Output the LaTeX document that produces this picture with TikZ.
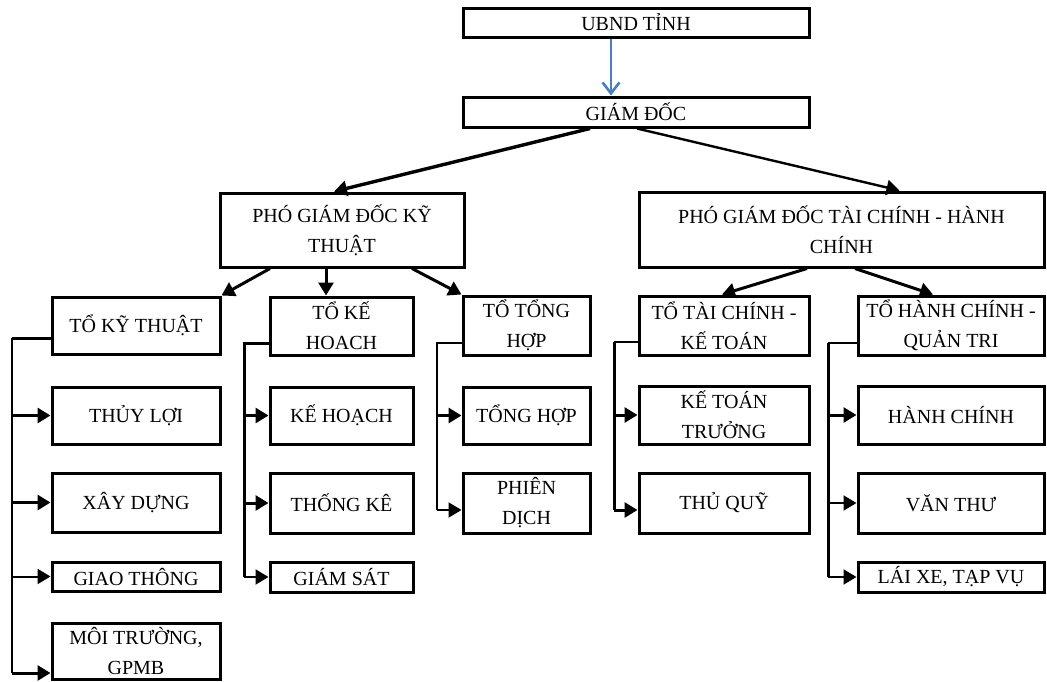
\documentclass[tikz,border=0pt]{standalone}
\usepackage{fontspec}
\setmainfont{Liberation Serif}
\usetikzlibrary{arrows.meta}
\definecolor{linkblue}{RGB}{74,126,193}

\begin{document}
\begin{tikzpicture}[x=1pt,y=-1pt,
    box/.style={draw,line width=3pt,align=center,inner sep=0pt,font=\fontsize{20}{30}\selectfont},
    link/.style={line width=3pt,-{Triangle[length=13pt,width=15pt]}},
    thin link/.style={line width=2pt,-{Triangle[length=13pt,width=15pt]}},
    bus/.style={line width=3pt},
    thin bus/.style={line width=2pt}]
    \useasboundingbox (0,0) rectangle (1047,681);

    % top
    \node[box,minimum width=346pt,minimum height=29pt] (ubnd) at (636,22.5) {UBND TỈNH};
    \node[box,minimum width=346pt,minimum height=30pt] (gd) at (636,112) {GIÁM ĐỐC};
    \draw[draw=linkblue,line width=2.6pt,-{Straight Barb[length=11pt,width=17pt]}] ([xshift=-25pt]ubnd.south) -- ([xshift=-25pt]gd.north);

    % deputies
    \node[box,minimum width=244pt,minimum height=74pt] (pgdkt) at (342,230) {PHÓ GIÁM ĐỐC KỸ\\THUẬT};
    \node[box,minimum width=405pt,minimum height=75pt] (pgdtc) at (841.5,229.5) {PHÓ GIÁM ĐỐC TÀI CHÍNH - HÀNH\\CHÍNH};
    \draw[link,line width=3.4pt] ([xshift=-46pt]gd.south) -- ([xshift=-8pt]pgdkt.north);
    \draw[link,line width=2.4pt] ([xshift=1pt]gd.south) -- ([xshift=58pt]pgdtc.north);

    % to ky thuat
    \node[box,minimum width=168pt,minimum height=57pt] (tokt) at (136,325.5) {TỔ KỸ THUẬT};
    \node[box,minimum width=168pt,minimum height=57pt] (thuyloi) at (136,415.5) {THỦY LỢI};
    \node[box,minimum width=168pt,minimum height=59pt] (xaydung) at (136,502.5) {XÂY DỰNG};
    \node[box,minimum width=168pt,minimum height=29pt] (giaothong) at (136,576.5) {GIAO THÔNG};
    \node[box,minimum width=168pt,minimum height=56pt] (moitruong) at (136,651) {MÔI TRƯỜNG,\\GPMB};

    % to ke hoach
    \node[box,minimum width=143pt,minimum height=58pt] (tokh) at (341.5,326) {TỔ KẾ\\HOACH};
    \node[box,minimum width=143pt,minimum height=57pt] (kehoach) at (341.5,415.5) {KẾ HOẠCH};
    \node[box,minimum width=143pt,minimum height=60pt] (thongke) at (341.5,503) {THỐNG KÊ};
    \node[box,minimum width=143pt,minimum height=30pt] (giamsat) at (341.5,577) {GIÁM SÁT};

    % to tong hop
    \node[box,minimum width=127pt,minimum height=59pt] (toth) at (526.5,325.5) {TỔ TỔNG\\HỢP};
    \node[box,minimum width=127pt,minimum height=57pt] (tonghop) at (526.5,415.5) {TỔNG HỢP};
    \node[box,minimum width=127pt,minimum height=60pt] (phiendich) at (526.5,503) {PHIÊN\\DỊCH};

    % to tai chinh
    \node[box,minimum width=170pt,minimum height=59pt] (totckt) at (724,325.5) {TỔ TÀI CHÍNH -\\KẾ TOÁN};
    \node[box,minimum width=170pt,minimum height=58pt] (ktt) at (724,415) {KẾ TOÁN\\TRƯỞNG};
    \node[box,minimum width=170pt,minimum height=60pt] (thuquy) at (724,503) {THỦ QUỸ};

    % to hanh chinh
    \node[box,minimum width=186pt,minimum height=59pt] (tohc) at (951,325.5) {TỔ HÀNH CHÍNH -\\QUẢN TRI};
    \node[box,minimum width=186pt,minimum height=58pt] (hanhchinh) at (951,415) {HÀNH CHÍNH};
    \node[box,minimum width=186pt,minimum height=60pt] (vanthu) at (951,503) {VĂN THƯ};
    \node[box,minimum width=186pt,minimum height=30pt] (laixe) at (951,577) {LÁI XE, TẠP VỤ};

    % deputies to teams
    \draw[link] ([xshift=-72pt]pgdkt.south) -- (tokt.north east);
    \draw[link] ([xshift=-16pt]pgdkt.south) -- ([xshift=-16pt]pgdkt.south |- tokh.north);
    \draw[link] ([xshift=70pt]pgdkt.south) -- (toth.north west);
    \draw[link] ([xshift=-34.5pt]pgdtc.south) -- ([xshift=-2pt]totckt.north);
    \draw[link] ([xshift=13.5pt]pgdtc.south) -- ([xshift=-18pt]tohc.north);

    % brackets
    \coordinate (ktbus) at (12,338);
    \coordinate (ktend) at (12,673);
    \draw[bus] ([yshift=-12.5pt]tokt.west) -- (ktbus);
    \draw[thin bus] (ktbus) -- (ktend);
    \draw[link] (ktbus |- thuyloi.west) -- (thuyloi.west);
    \draw[link] (ktbus |- xaydung.west) -- (xaydung.west);
    \draw[thin link] (ktbus |- giaothong.west) -- (giaothong.west);
    \draw[link] (ktend) -- (ktend -| moitruong.west);

    \coordinate (khbus) at (244,343);
    \coordinate (khend) at (244,577);
    \draw[bus] ([yshift=-17pt]tokh.west) -- (khbus) -- (khend);
    \draw[link] (khbus |- kehoach.west) -- (kehoach.west);
    \draw[link] (khbus |- thongke.west) -- (thongke.west);
    \draw[thin link] (khend) -- (giamsat.west);

    \coordinate (thbus) at (437,343);
    \coordinate (thend) at (437,510);
    \draw[thin bus] ([yshift=-17.5pt]toth.west) -- (thbus) -- (thend);
    \draw[link] (thbus |- tonghop.west) -- (tonghop.west);
    \draw[thin link] (thend) -- (thend -| phiendich.west);

    \coordinate (tcbus) at (614,342);
    \coordinate (tcend) at (614,510);
    \draw[thin bus] ([yshift=-16.5pt]totckt.west) -- (tcbus);
    \draw[bus] (tcbus) -- (tcend);
    \draw[link] (tcbus |- ktt.west) -- (ktt.west);
    \draw[link] (tcend) -- (tcend -| thuquy.west);

    \coordinate (hcbus) at (828,343);
    \coordinate (hcend) at (828,577);
    \draw[thin bus] ([yshift=-17.5pt]tohc.west) -- (hcbus);
    \draw[bus] (hcbus) -- (hcend);
    \draw[link] (hcbus |- hanhchinh.west) -- (hanhchinh.west);
    \draw[thin link] (hcbus |- vanthu.west) -- (vanthu.west);
    \draw[thin link] (hcend) -- (laixe.west);
\end{tikzpicture}
\end{document}
